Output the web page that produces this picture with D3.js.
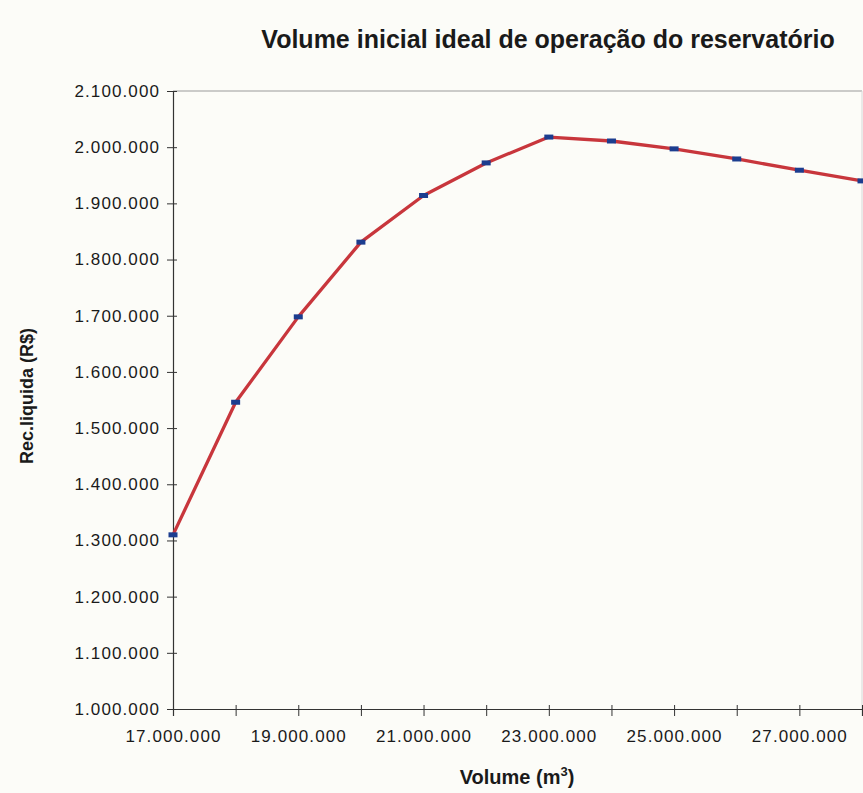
<!DOCTYPE html>
<html>
<head>
<meta charset="utf-8">
<script src="https://cdn.jsdelivr.net/npm/d3@7"></script>
<style>
  html, body { margin: 0; padding: 0; background: #fcfcf8; }
  svg { display: block; }
  text { font-family: "Liberation Sans", Arial, sans-serif; fill: #1a1a1a; }
</style>
</head>
<body>
<svg id="chart" width="863" height="793"></svg>
<script>
// Initial reservoir volume (m³) and resulting net revenue (R$)
const volumes = [17000000, 18000000, 19000000, 20000000, 21000000, 22000000,
                 23000000, 24000000, 25000000, 26000000, 27000000, 28000000];
const revenue = [1310000, 1546000, 1698000, 1831000, 1914000, 1972000,
                 2018000, 2011000, 1997000, 1979000, 1959000, 1940000];
const xTickLabels = [17000000, 19000000, 21000000, 23000000, 25000000, 27000000];
const yTicks = [1000000, 1100000, 1200000, 1300000, 1400000, 1500000,
                1600000, 1700000, 1800000, 1900000, 2000000, 2100000];

const titleText = "Volume inicial ideal de operação do reservatório";
const yTitle = "Rec.liquida (R$)";

const svg = d3.select("#chart");
const plotLeft = 173, plotRight = 862, plotTop = 91, plotBottom = 709;

const x = d3.scaleLinear().domain([17000000, 28000000]).range([plotLeft, plotRight]);
const y = d3.scaleLinear().domain([1000000, 2100000]).range([plotBottom, plotTop]);

// Brazilian-style thousands separator
const fmt = d3.formatLocale({ decimal: ",", thousands: ".", grouping: [3], currency: ["R$", ""] }).format(",d");

// Plot frame: light top and right borders
svg.append("line").attr("x1", plotLeft).attr("x2", plotRight).attr("y1", plotTop).attr("y2", plotTop)
  .attr("stroke", "#9a9a9a").attr("stroke-width", 1);
svg.append("line").attr("x1", plotRight).attr("x2", plotRight).attr("y1", plotTop).attr("y2", plotBottom)
  .attr("stroke", "#d8d8d8").attr("stroke-width", 1);

// Y axis
const yAxis = d3.axisLeft(y).tickValues(yTicks).tickFormat(fmt).tickSize(6).tickPadding(7);
const gy = svg.append("g").attr("transform", `translate(${plotLeft},0)`).call(yAxis);
gy.select(".domain").attr("stroke", "#333").attr("stroke-width", 1.2);
gy.selectAll(".tick line").attr("stroke", "#333").attr("x2", -6).attr("x1", 4);
gy.selectAll(".tick text").attr("font-size", 17).attr("letter-spacing", "1.1px")
  .attr("fill", "#1a1a1a").attr("font-family", "Liberation Sans, Arial, sans-serif");

// X axis: ticks every million, labels every two
const xAxis = d3.axisBottom(x).tickValues(volumes).tickSize(7).tickPadding(14)
  .tickFormat(d => xTickLabels.includes(d) ? fmt(d) : "");
const gx = svg.append("g").attr("transform", `translate(0,${plotBottom})`).call(xAxis);
gx.select(".domain").attr("stroke", "#333").attr("stroke-width", 1.2);
gx.selectAll(".tick line").attr("stroke", "#333").attr("y1", -4).attr("y2", 7);
gx.selectAll(".tick text").attr("font-size", 17).attr("letter-spacing", "1.1px")
  .attr("fill", "#1a1a1a").attr("font-family", "Liberation Sans, Arial, sans-serif");

// Revenue line
const line = d3.line().x((d, i) => x(volumes[i])).y(d => y(d));
svg.append("path").datum(revenue)
  .attr("d", line)
  .attr("fill", "none")
  .attr("stroke", "#c8363c")
  .attr("stroke-width", 3.3)
  .attr("stroke-linejoin", "round");

// Dash markers
svg.append("g").selectAll("rect").data(revenue).join("rect")
  .attr("x", (d, i) => x(volumes[i]) - 4.5)
  .attr("y", d => y(d) - 2.5)
  .attr("width", 9).attr("height", 5)
  .attr("fill", "#1c3d8f");

// Titles
svg.append("text").attr("x", 548).attr("y", 48).attr("text-anchor", "middle")
  .attr("font-size", 25).attr("font-weight", "bold").text(titleText);

const xt = svg.append("text").attr("x", 517).attr("y", 784).attr("text-anchor", "middle")
  .attr("font-size", 20).attr("font-weight", "bold");
xt.append("tspan").text("Volume (m");
xt.append("tspan").attr("font-size", 13).attr("dy", -8).text("3");
xt.append("tspan").attr("dy", 8).text(")");

svg.append("text").attr("transform", "translate(33,396) rotate(-90)")
  .attr("text-anchor", "middle").attr("font-size", 18).attr("font-weight", "bold")
  .text(yTitle);
</script>
</body>
</html>
